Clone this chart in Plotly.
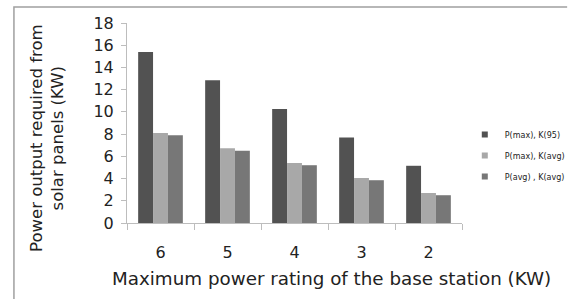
import plotly.graph_objects as go

categories = ["6", "5", "4", "3", "2"]
series_names = ["P(max), K(95)", "P(max), K(avg)", "P(avg) , K(avg)"]
p_max_k95 = [15.4, 12.84, 10.26, 7.7, 5.15]
p_max_kavg = [8.1, 6.72, 5.4, 4.05, 2.7]
p_avg_kavg = [7.9, 6.5, 5.2, 3.85, 2.5]
y_ticks = [0, 2, 4, 6, 8, 10, 12, 14, 16, 18]

colors = ["#525252", "#a8a8a8", "#777777"]
values = [p_max_k95, p_max_kavg, p_avg_kavg]

W, H = 582, 299
L, R, T, B = 127, 95, 23, 76
pw, ph = W - L - R, H - T - B

def px_x(x):
    return (x - L) / pw

def px_y(y):
    return (H - B - y) / ph

FONT = "DejaVu Sans"

fig = go.Figure()
for name, vals, col in zip(series_names, values, colors):
    fig.add_trace(go.Bar(x=categories, y=vals, name=name, marker=dict(color=col, line=dict(width=0)),
                         showlegend=False, legendgroup=name))
for name, col in zip(series_names, colors):
    fig.add_trace(go.Scatter(x=[None], y=[None], mode="markers", name=name, legendgroup=name,
                             marker=dict(symbol="square", size=6, color=col)))

fig.update_layout(
    width=W, height=H,
    margin=dict(l=L, r=R, t=T, b=B),
    paper_bgcolor="white", plot_bgcolor="white",
    barmode="group", bargap=0.333, bargroupgap=0,
    font=dict(family=FONT, color="#222222"),
    legend=dict(x=px_x(490), xanchor="left", y=px_y(120), yanchor="top",
                font=dict(size=8, family=FONT, color="#222222"),
                tracegroupgap=2, itemclick=False, bgcolor="rgba(0,0,0,0)"),
    xaxis=dict(type="category", showline=True, linecolor="#bdbdbd", linewidth=1,
               ticks="outside", tickson="boundaries", ticklen=6, tickcolor="#bdbdbd",
               tickfont=dict(size=16, family=FONT, color="#222222"),
               ticklabelstandoff=15, showgrid=False, zeroline=False),
    yaxis=dict(range=[0, 18], tickvals=y_ticks, showline=True, linecolor="#bdbdbd", linewidth=1,
               ticks="outside", ticklen=5, tickcolor="#bdbdbd",
               tickfont=dict(size=16, family=FONT, color="#222222"),
               ticklabelstandoff=4, showgrid=False, zeroline=False),
    annotations=[
        dict(text="Power output required from<br>solar panels (KW)", textangle=-90,
             xref="paper", yref="paper", x=px_x(41), y=px_y(138), showarrow=False,
             xanchor="center", yanchor="middle", font=dict(size=16.5, family=FONT, color="#222222")),
        dict(text="Maximum power rating of the base station (KW)",
             xref="paper", yref="paper", x=px_x(347), y=px_y(278), showarrow=False,
             xanchor="center", yanchor="middle", font=dict(size=18.3, family=FONT, color="#222222")),
    ],
    shapes=[
        dict(type="path", xref="paper", yref="paper",
             path=f"M {px_x(5.5)},{px_y(320)} L {px_x(5.5)},{px_y(7)} L {px_x(600)},{px_y(7)}",
             line=dict(color="#a0a0a0", width=1.5)),
    ],
)

fig.write_html("out.html", config={"displayModeBar": False},
               post_script="document.body.style.margin='0';")
